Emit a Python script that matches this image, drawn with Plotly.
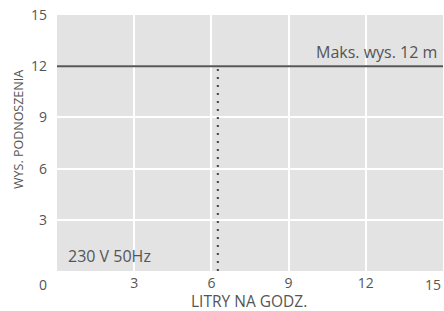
import plotly.graph_objects as go

x_ticks = [3, 6, 9, 12]
y_ticks = [3, 6, 9, 12, 15]
max_height = 12
flow_rate = 6.25
x_max = 15
y_max = 15
max_label = "Maks. wys. 12 m"
power_label = "230 V 50Hz"
x_title = "LITRY NA GODZ."
y_title = "WYS. PODNOSZENIA"

txt = "#555555"
font = "Open Sans"
fs_tick = 14
fs_lab = 16

fig = go.Figure()
fig.add_trace(go.Scatter(x=[0, x_max], y=[max_height, max_height], mode="lines",
                         line=dict(color="#555555", width=2), hoverinfo="skip"))
fig.add_trace(go.Scatter(x=[flow_rate, flow_rate], y=[0, max_height], mode="lines",
                         line=dict(color="#444444", width=2, dash="2px,6px"), hoverinfo="skip"))

fig.add_annotation(x=x_max, y=max_height, xref="x", yref="y", text=max_label,
                   showarrow=False, xanchor="right", yanchor="bottom", xshift=-4, yshift=1,
                   font=dict(size=fs_lab, color=txt, family=font))
fig.add_annotation(x=0, y=0, xref="x", yref="y", text=power_label,
                   showarrow=False, xanchor="left", yanchor="bottom", xshift=9, yshift=2,
                   font=dict(size=fs_lab, color=txt, family=font))
fig.add_annotation(x=0, y=0, xref="x", yref="y", text="0",
                   showarrow=False, xanchor="center", yanchor="top", xshift=-14, yshift=-2,
                   font=dict(size=fs_tick, color=txt, family=font))
fig.add_annotation(x=x_max, y=0, xref="x", yref="y", text=str(x_max),
                   showarrow=False, xanchor="right", yanchor="top", xshift=0, yshift=-2,
                   font=dict(size=fs_tick, color=txt, family=font))
fig.add_annotation(x=0, y=0.5, xref="paper", yref="paper", text=y_title, textangle=-90,
                   showarrow=False, xanchor="center", yanchor="middle", xshift=-39, yshift=13,
                   font=dict(size=12.5, color=txt, family=font))
fig.add_annotation(x=0.5, y=0, xref="paper", yref="paper", text=x_title,
                   showarrow=False, xanchor="center", yanchor="middle", xshift=-1, yshift=-30,
                   font=dict(size=15.5, color=txt, family=font))

fig.update_layout(
    width=444, height=311,
    margin=dict(l=57, r=1, t=15, b=40, autoexpand=False),
    paper_bgcolor="white", plot_bgcolor="#e3e3e3",
    showlegend=False,
    font=dict(family=font, size=fs_tick, color=txt),
)
fig.update_xaxes(range=[0, x_max], tickvals=x_ticks, ticktext=[str(v) for v in x_ticks],
                 showgrid=True, gridcolor="white", gridwidth=1.5, zeroline=False,
                 showline=False, ticks="", ticklabelstandoff=2, automargin=False,
                 ticklabeloverflow="allow",
                 tickfont=dict(size=fs_tick, color=txt))
fig.update_yaxes(range=[0, y_max], tickvals=y_ticks, ticktext=[str(v) for v in y_ticks],
                 showgrid=True, gridcolor="white", gridwidth=1.5, zeroline=False,
                 showline=False, ticks="", ticklabelstandoff=9, automargin=False,
                 ticklabeloverflow="allow",
                 tickfont=dict(size=fs_tick, color=txt))

fig.write_html("out.html", config={"displayModeBar": False},
               post_script="document.body.style.margin='0';document.body.style.overflow='hidden';")
